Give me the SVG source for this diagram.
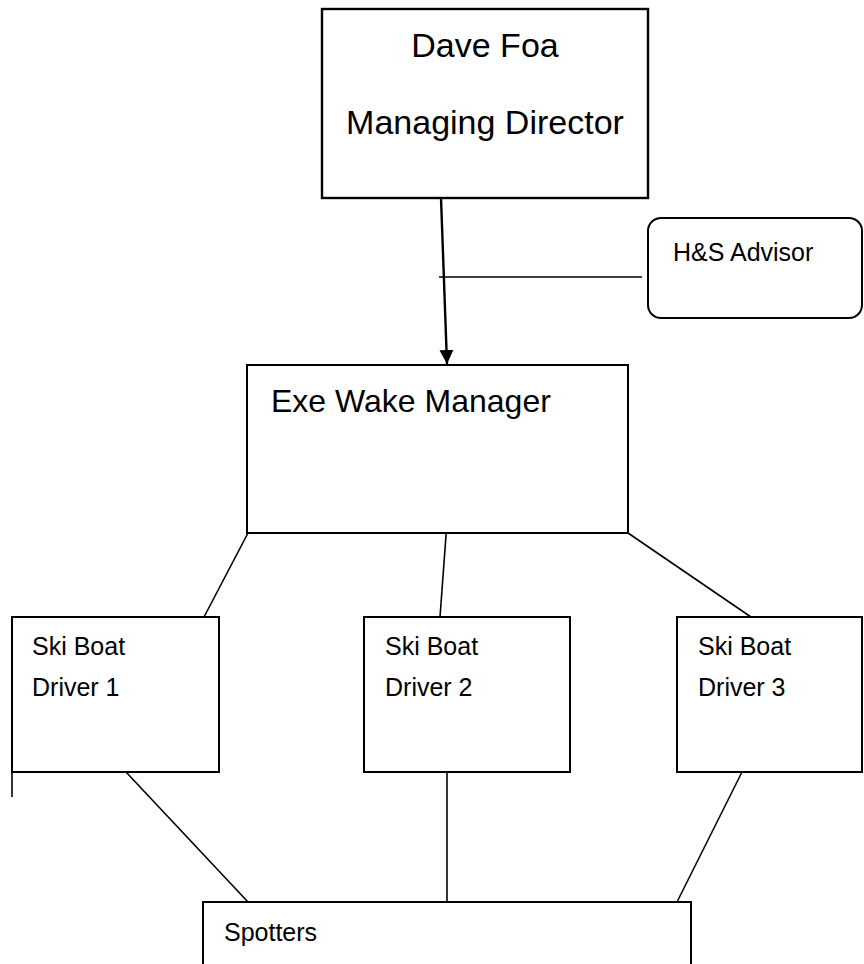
<svg xmlns="http://www.w3.org/2000/svg" width="864" height="964" viewBox="0 0 864 964">
<defs>
<style>
.box{fill:#fff;stroke:#000;stroke-width:2}
.ln{fill:none;stroke:#000;stroke-width:1.6}
.t{font-family:"Liberation Sans",Arial,sans-serif;fill:#000}
</style>
<marker id="ah" viewBox="0 0 10 10" refX="10" refY="5" markerWidth="14" markerHeight="14" markerUnits="userSpaceOnUse" orient="auto"><path d="M0,0 L10,5 L0,10 z" fill="#000"/></marker>
</defs>
<rect width="864" height="964" fill="#fff"/>
<g id="connectors">
<line class="ln" x1="441" y1="198" x2="447" y2="364" style="stroke-width:2.4" marker-end="url(#ah)"/>
<line class="ln" x1="439" y1="277" x2="642" y2="277"/>
<line class="ln" x1="248" y1="533" x2="204" y2="617"/>
<line class="ln" x1="447" y1="522" x2="440" y2="617"/>
<line class="ln" x1="628" y1="533" x2="751" y2="617"/>
<line class="ln" x1="126" y1="772" x2="248" y2="902"/>
<line class="ln" x1="447" y1="772" x2="447" y2="902"/>
<line class="ln" x1="742" y1="772" x2="677" y2="902"/>
<line class="ln" x1="12" y1="750" x2="12" y2="797"/>
</g>
<g id="dave">
<rect class="box" x="322" y="9" width="326" height="189" style="stroke-width:2.4"/>
<text class="t" x="485" y="57" font-size="34" text-anchor="middle">Dave Foa</text>
<text class="t" x="485" y="134" font-size="34" text-anchor="middle">Managing Director</text>
</g>
<g id="hs">
<rect class="box" x="648" y="218" width="214" height="100" rx="13"/>
<text class="t" x="673" y="261" font-size="25">H&amp;S Advisor</text>
</g>
<g id="exe">
<rect class="box" x="247" y="365" width="381" height="168"/>
<text class="t" x="271" y="412" font-size="32">Exe Wake Manager</text>
</g>
<g id="driver1">
<rect class="box" x="12" y="617" width="207" height="155"/>
<text class="t" x="32" y="655" font-size="25">Ski Boat</text>
<text class="t" x="32" y="696" font-size="25">Driver 1</text>
</g>
<g id="driver2">
<rect class="box" x="364" y="617" width="206" height="155"/>
<text class="t" x="385" y="655" font-size="25">Ski Boat</text>
<text class="t" x="385" y="696" font-size="25">Driver 2</text>
</g>
<g id="driver3">
<rect class="box" x="677" y="617" width="185" height="155"/>
<text class="t" x="698" y="655" font-size="25">Ski Boat</text>
<text class="t" x="698" y="696" font-size="25">Driver 3</text>
</g>
<g id="spotters">
<rect class="box" x="203" y="902" width="488" height="80"/>
<text class="t" x="224" y="941" font-size="25">Spotters</text>
</g>
</svg>
